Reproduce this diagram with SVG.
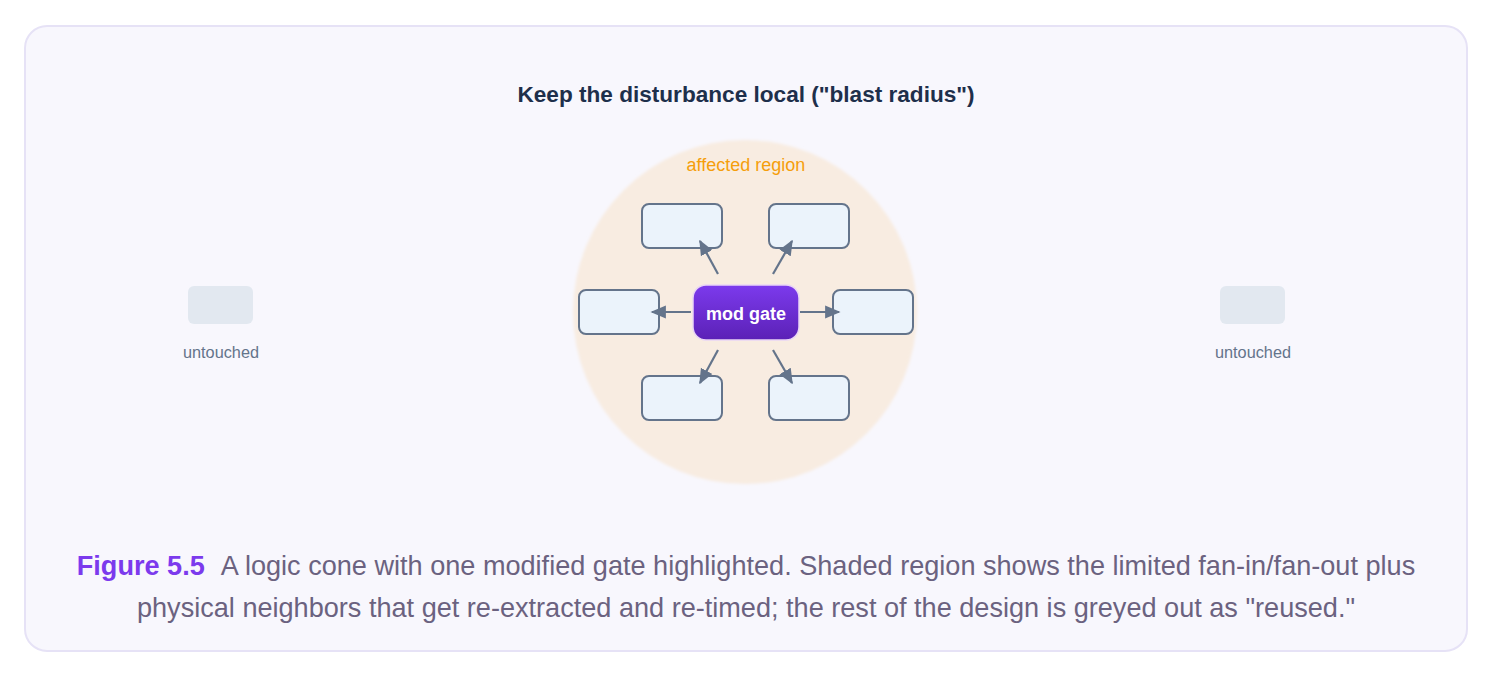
<svg xmlns="http://www.w3.org/2000/svg" width="1494" height="678" viewBox="0 0 1494 678">
<style>
.box{fill:#ebf3fb;stroke:#64748b;stroke-width:2}
.ut{fill:#e2e8f0}
.utl{font-family:"Liberation Sans",Arial,sans-serif;font-size:16.3px;fill:#64748b;text-anchor:middle}
.conn{stroke:#64748b;stroke-width:2.2;fill:none;marker-end:url(#ah)}
</style>
<defs>
<marker id="ah" viewBox="0 0 10 10" refX="9" refY="5" markerWidth="7" markerHeight="7" orient="auto" markerUnits="strokeWidth">
<path d="M0,0.8 L10,5 L0,9.2 z" fill="#64748b"/>
</marker>
<linearGradient id="mg" x1="0" y1="0" x2="0" y2="1">
<stop offset="0" stop-color="#7c3aed"/>
<stop offset="1" stop-color="#5b21b6"/>
</linearGradient>
<filter id="soft" x="-10%" y="-10%" width="120%" height="120%"><feGaussianBlur stdDeviation="1.5"/></filter>
</defs>
<rect x="25" y="26" width="1442" height="625" rx="22" fill="#f8f7fd" stroke="#e6e2f6" stroke-width="2"/>
<text x="746" y="102" text-anchor="middle" font-family="Liberation Sans,Arial,sans-serif" font-size="22.6" font-weight="bold" fill="#1e2f4b">Keep the disturbance local ("blast radius")</text>
<g id="region">
<circle cx="745" cy="312" r="172" fill="#f8ece1" filter="url(#soft)"/>
<text x="746" y="171" text-anchor="middle" font-family="Liberation Sans,Arial,sans-serif" font-size="18" fill="#f59e0b">affected region</text>
</g>
<g id="n-tl"><rect class="box" x="642" y="204" width="80" height="44" rx="7"/></g>
<g id="n-tr"><rect class="box" x="769" y="204" width="80" height="44" rx="7"/></g>
<g id="n-l"><rect class="box" x="579" y="290" width="80" height="44" rx="7"/></g>
<g id="n-r"><rect class="box" x="833" y="290" width="80" height="44" rx="7"/></g>
<g id="n-bl"><rect class="box" x="642" y="376" width="80" height="44" rx="7"/></g>
<g id="n-br"><rect class="box" x="769" y="376" width="80" height="44" rx="7"/></g>
<g id="connectors">
<line class="conn" x1="718" y1="274" x2="700" y2="241"/>
<line class="conn" x1="773" y1="274" x2="792" y2="241"/>
<line class="conn" x1="691" y1="312" x2="652" y2="312"/>
<line class="conn" x1="800" y1="312" x2="839" y2="312"/>
<line class="conn" x1="718" y1="350" x2="700" y2="383"/>
<line class="conn" x1="773" y1="350" x2="792" y2="383"/>
</g>
<g id="modgate">
<rect x="693" y="285" width="106" height="55" rx="13" fill="url(#mg)" stroke="#e9d5f5" stroke-width="1.5"/>
<text x="746" y="320" text-anchor="middle" font-family="Liberation Sans,Arial,sans-serif" font-size="18" font-weight="bold" fill="#ffffff">mod gate</text>
</g>
<g id="untouched-left">
<rect class="ut" x="188" y="286" width="65" height="38" rx="6"/>
<text class="utl" x="221" y="358">untouched</text>
</g>
<g id="untouched-right">
<rect class="ut" x="1220" y="286" width="65" height="38" rx="6"/>
<text class="utl" x="1253" y="358">untouched</text>
</g>
<g id="caption" font-family="Liberation Sans,Arial,sans-serif" font-size="27.1" text-anchor="middle" fill="#6b6280">
<text x="746" y="575"><tspan font-weight="bold" fill="#7c3aed">Figure 5.5</tspan><tspan dx="10"> A logic cone with one modified gate highlighted. Shaded region shows the limited fan-in/fan-out plus</tspan></text>
<text x="746" y="617">physical neighbors that get re-extracted and re-timed; the rest of the design is greyed out as "reused."</text>
</g>
</svg>
